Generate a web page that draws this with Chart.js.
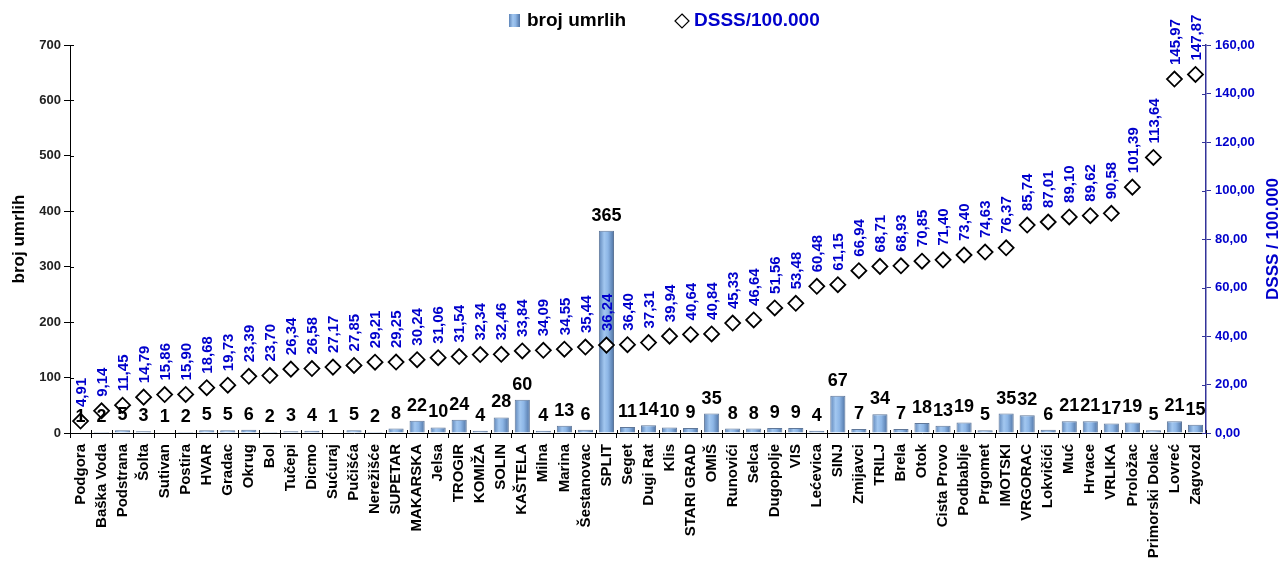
<!DOCTYPE html>
<html>
<head>
<meta charset="utf-8">
<script src="https://cdn.jsdelivr.net/npm/chart.js@4.4.1/dist/chart.umd.min.js"></script>
<style>
  html, body { margin: 0; padding: 0; background: #fff; }
</style>
</head>
<body>
<canvas id="chart" width="1281" height="566"></canvas>
<script>
// municipalities, sorted by DSSS rate
const municipalities = [
  'Podgora', 'Baška Voda', 'Podstrana', 'Šolta', 'Sutivan', 'Postira', 'HVAR', 'Gradac', 'Okrug', 'Bol',
  'Tučepi', 'Dicmo', 'Sućuraj', 'Pučišća', 'Nerežišće', 'SUPETAR', 'MAKARSKA', 'Jelsa', 'TROGIR', 'KOMIŽA',
  'SOLIN', 'KAŠTELA', 'Milna', 'Marina', 'Šestanovac', 'SPLIT', 'Seget', 'Dugi Rat', 'Klis', 'STARI GRAD',
  'OMIŠ', 'Runovići', 'Selca', 'Dugopolje', 'VIS', 'Lećevica', 'SINJ', 'Zmijavci', 'TRILJ', 'Brela',
  'Otok', 'Cista Provo', 'Podbablje', 'Prgomet', 'IMOTSKI', 'VRGORAC', 'Lokvičići', 'Muć', 'Hrvace', 'VRLIKA',
  'Proložac', 'Primorski Dolac', 'Lovreć', 'Zagvozd'
];

// broj umrlih (left axis)
const deaths = [
  1, 2, 5, 3, 1, 2, 5, 5, 6, 2,
  3, 4, 1, 5, 2, 8, 22, 10, 24, 4,
  28, 60, 4, 13, 6, 365, 11, 14, 10, 9,
  35, 8, 8, 9, 9, 4, 67, 7, 34, 7,
  18, 13, 19, 5, 35, 32, 6, 21, 21, 17,
  19, 5, 21, 15
];

// DSSS / 100.000 (right axis)
const dsss = [
  4.91, 9.14, 11.45, 14.79, 15.86, 15.90, 18.68, 19.73, 23.39, 23.70,
  26.34, 26.58, 27.17, 27.85, 29.21, 29.25, 30.24, 31.06, 31.54, 32.34,
  32.46, 33.84, 34.09, 34.55, 35.44, 36.24, 36.40, 37.31, 39.94, 40.64,
  40.84, 45.33, 46.64, 51.56, 53.48, 60.48, 61.15, 66.94, 68.71, 68.93,
  70.85, 71.40, 73.40, 74.63, 76.37, 85.74, 87.01, 89.10, 89.62, 90.58,
  101.39, 113.64, 145.97, 147.87
];

const deathsAxis = { min: 0, max: 700, step: 100 };
const rateAxis = { min: 0, max: 160, step: 20 };

const FONT = "'Liberation Sans', Arial, Helvetica, sans-serif";
const BLUE = '#0000CC';
const NAVY = '#333399';

Chart.defaults.font.family = FONT;

const fmt = v => Number(v).toFixed(2).replace('.', ',');

function shade(ctx, x0, x1) {
  const g = ctx.createLinearGradient(x0, 0, x1, 0);
  g.addColorStop(0, '#5E85B8');
  g.addColorStop(0.35, '#A2C7F0');
  g.addColorStop(0.6, '#8DB6E6');
  g.addColorStop(1, '#4E72A3');
  return g;
}

// bars get a left-to-right shading like the original
function barFill(context) {
  const el = context.element;
  if (!el || !el.width) return '#86AEDF';
  return shade(context.chart.ctx, el.x - el.width / 2, el.x + el.width / 2);
}

// value labels above bars and diamonds
const valueLabels = {
  id: 'valueLabels',
  afterDatasetsDraw(chart) {
    const ctx = chart.ctx;
    ctx.save();

    const barMeta = chart.getDatasetMeta(1);
    ctx.fillStyle = '#000';
    ctx.font = 'bold 18px ' + FONT;
    ctx.textAlign = 'center';
    ctx.textBaseline = 'alphabetic';
    barMeta.data.forEach((bar, i) => {
      ctx.fillText(String(deaths[i]), bar.x, bar.y - 10);
    });

    const rateMeta = chart.getDatasetMeta(0);
    ctx.fillStyle = BLUE;
    ctx.font = 'bold 15px ' + FONT;
    ctx.textAlign = 'left';
    ctx.textBaseline = 'middle';
    rateMeta.data.forEach((pt, i) => {
      ctx.save();
      ctx.translate(pt.x + 1, pt.y - 14);
      ctx.rotate(-Math.PI / 2);
      ctx.fillText(fmt(dsss[i]), 0, 0);
      ctx.restore();
    });
    ctx.restore();
  }
};

// ticks that cross the axis lines, right axis title and the legend
const extras = {
  id: 'extras',
  afterDraw(chart) {
    const { ctx, chartArea, scales } = chart;
    ctx.save();
    ctx.lineWidth = 1;

    ctx.strokeStyle = '#000';
    ctx.beginPath();
    scales.y.ticks.forEach((t, i) => {
      const py = Math.round(scales.y.getPixelForTick(i)) + 0.5;
      ctx.moveTo(chartArea.left, py);
      ctx.lineTo(chartArea.left + 4, py);
    });
    const n = municipalities.length;
    const w = (scales.x.right - scales.x.left) / n;
    for (let i = 0; i <= n; i++) {
      const px = Math.round(scales.x.left + i * w) + 0.5;
      ctx.moveTo(px, chartArea.bottom);
      ctx.lineTo(px, chartArea.bottom - 3);
    }
    ctx.stroke();

    ctx.strokeStyle = NAVY;
    ctx.beginPath();
    scales.y1.ticks.forEach((t, i) => {
      const py = Math.round(scales.y1.getPixelForTick(i)) + 0.5;
      ctx.moveTo(chartArea.right, py);
      ctx.lineTo(chartArea.right - 4, py);
    });
    ctx.stroke();

    // right title reads upwards, like the left one
    ctx.fillStyle = BLUE;
    ctx.font = 'bold 17px ' + FONT;
    ctx.textAlign = 'center';
    ctx.textBaseline = 'middle';
    ctx.save();
    ctx.translate(scales.y1.right - 8, (chartArea.top + chartArea.bottom) / 2);
    ctx.rotate(-Math.PI / 2);
    ctx.fillText('DSSS / 100.000', 0, 0);
    ctx.restore();

    // legend
    const ly = 21;
    let lx = 509;
    ctx.fillStyle = shade(ctx, lx, lx + 11);
    ctx.fillRect(lx, ly - 7, 11, 13);
    ctx.font = 'bold 19px ' + FONT;
    ctx.textAlign = 'left';
    ctx.fillStyle = '#000';
    ctx.fillText(chart.data.datasets[1].label, lx + 18, ly);
    lx = 682;
    ctx.beginPath();
    ctx.moveTo(lx, ly - 7);
    ctx.lineTo(lx + 7, ly);
    ctx.lineTo(lx, ly + 7);
    ctx.lineTo(lx - 7, ly);
    ctx.closePath();
    ctx.fillStyle = '#fff';
    ctx.fill();
    ctx.strokeStyle = '#000';
    ctx.lineWidth = 1.2;
    ctx.stroke();
    ctx.fillStyle = BLUE;
    ctx.fillText(chart.data.datasets[0].label, lx + 12, ly);

    ctx.restore();
  }
};

const chart = new Chart(document.getElementById('chart'), {
  type: 'bar',
  data: {
    labels: municipalities,
    datasets: [
      {
        type: 'line',
        label: 'DSSS/100.000',
        data: dsss,
        yAxisID: 'y1',
        showLine: false,
        pointStyle: 'rectRot',
        pointRadius: 7.5,
        pointBackgroundColor: '#fff',
        pointBorderColor: '#000',
        pointBorderWidth: 1.8,
        order: 0
      },
      {
        label: 'broj umrlih',
        data: deaths,
        yAxisID: 'y',
        backgroundColor: barFill,
        borderColor: '#5F7799',
        borderWidth: 1,
        barPercentage: 0.72,
        categoryPercentage: 1,
        order: 1
      }
    ]
  },
  options: {
    responsive: false,
    animation: false,
    events: [],
    layout: { padding: { top: 45, left: 0, right: 0, bottom: 0 } },
    plugins: {
      legend: { display: false },
      tooltip: { enabled: false }
    },
    scales: {
      x: {
        offset: true,
        grid: { drawOnChartArea: false, color: '#000', tickLength: 5, offset: true },
        border: { color: '#000', width: 1 },
        ticks: {
          autoSkip: false,
          maxRotation: 90,
          minRotation: 90,
          padding: 6,
          color: '#000',
          font: { size: 15, weight: 'bold' }
        },
        afterFit: s => { s.height = 133; }
      },
      y: {
        position: 'left',
        min: deathsAxis.min,
        max: deathsAxis.max,
        grid: { drawOnChartArea: false, color: '#000', tickLength: 6 },
        border: { color: '#000', width: 1 },
        ticks: {
          stepSize: deathsAxis.step,
          padding: 3,
          color: '#222',
          font: { size: 13, weight: 'bold' }
        },
        title: {
          display: true,
          text: 'broj umrlih',
          color: '#000',
          font: { size: 17, weight: 'bold' },
          padding: { top: 9, bottom: 0 }
        },
        afterFit: s => { s.width = 70; }
      },
      y1: {
        position: 'right',
        min: rateAxis.min,
        max: rateAxis.max,
        grid: { drawOnChartArea: false, color: NAVY, tickLength: 5 },
        border: { color: NAVY, width: 1.5 },
        ticks: {
          stepSize: rateAxis.step,
          padding: 4,
          color: BLUE,
          font: { size: 13, weight: 'bold' },
          callback: v => fmt(v)
        },
        afterFit: s => { s.width = 75; }
      }
    }
  },
  plugins: [valueLabels, extras]
});

// second pass so the bar shading knows each bar's position
chart.update('none');
</script>
</body>
</html>
